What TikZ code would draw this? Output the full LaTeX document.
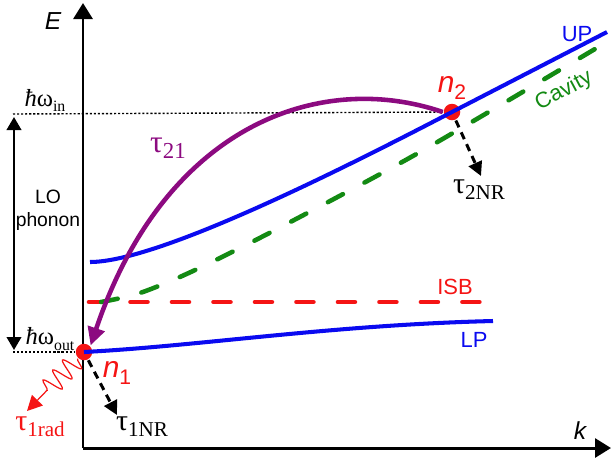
\documentclass[tikz,border=0pt]{standalone}
\usepackage{fontspec}
\setmainfont{Liberation Sans}
\newfontfamily\tnr{Liberation Serif}
\usetikzlibrary{arrows.meta, positioning, decorations.pathmorphing}
\definecolor{cblue}{HTML}{0A0AF0}
\definecolor{cgreen}{HTML}{138A13}
\definecolor{cred}{HTML}{F51414}
\definecolor{cpurple}{HTML}{8C0A80}
\newcommand{\low}[2]{\raisebox{-0.45ex}{\fontsize{#1}{#1}\selectfont #2}}
\tikzset{
  every picture/.style={line width=1.2pt},
  axis/.style={-{Triangle[length=3.2mm, width=3.8mm]}, line width=1.7pt},
  axlabel/.style={font=\fontsize{14}{16}\selectfont\itshape},
  branch/.style={draw=cblue, line width=2.3pt},
  band/.style={font=\fontsize{12.5}{14}\selectfont},
  longdash/.style={line width=2.6pt, line cap=round, dash pattern=on 3.4mm off 4.9mm},
  dotline/.style={line width=0.8pt, dash pattern=on 1.2pt off 1.1pt},
  phonon/.style={{Triangle[length=2.6mm, width=2.9mm]}-{Triangle[length=2.6mm, width=2.9mm]}, line width=1.3pt},
  relax/.style={draw=cpurple, line width=2.6pt, -{Triangle[length=3.6mm, width=3.4mm]}},
  nrarrow/.style={line width=1.7pt, dash pattern=on 1.5mm off 1.1mm, -{Triangle[length=2.8mm, width=2.8mm]}},
  radarrow/.style={draw=cred, line width=0.7pt, decorate, decoration={snake, amplitude=2mm, segment length=2.8mm, post length=5mm}, -{Triangle[length=3mm, width=3mm]}},
  pop/.style={circle, fill=cred, inner sep=0pt, minimum size=3.3mm},
  poplabel/.style={text=cred, font=\fontsize{17}{19}\selectfont\itshape},
  tau/.style={font=\tnr\fontsize{16}{18}\selectfont},
  ntau/.style={font=\tnr\fontsize{17}{19}\selectfont},
  level/.style={font=\tnr\fontsize{14}{16}\selectfont},
}
\begin{document}
\begin{tikzpicture}[x=0.02cm, y=-0.02cm]
  \useasboundingbox (0,0) rectangle (612,458);

  % axes
  \coordinate (origin) at (83,448);
  \coordinate (etop) at (83,3);
  \coordinate (kend) at (611,448);
  \draw[axis] (origin) -- (etop);
  \draw[axis] (origin) -- (kend);
  \node[axlabel] (elab) at (53,21) {E};
  \node[axlabel] (klab) at (580,431) {k};

  % populations
  \node[pop] (n1) at (84,352) {};
  \node[pop] (n2) at (452,112) {};
  \node[poplabel] (n1lab) at (117,373) {n\low{12}{\upshape 1}};
  \node[poplabel] (n2lab) at (452,88) {n\low{12}{\upshape 2}};

  % energy levels
  \coordinate (inleft) at (13,114);
  \coordinate (outleft) at (13,352);
  \draw[dotline] (inleft) -- (n2);
  \draw[dotline] (outleft) -- (n1);
  \node[level] (inlab) at (45,100) {\textit{ħ}ω\low{9}{in}};
  \node[level] (outlab) at (50,339) {\textit{ħ}ω\low{9}{out}};
  \coordinate (phtop) at (14,117);
  \coordinate (phbot) at (14,350);
  \draw[phonon] (phtop) -- (phbot);
  \node[band, font=\fontsize{11}{13}\selectfont, align=center] (lolab) at (48,210) {LO\\phonon};

  % dispersions
  \draw[cred, longdash] (89,302) -- (485,302);
  \draw[cgreen, longdash] plot[smooth] coordinates {(101,302) (140,293) (193,271) (277,229) (420,152) (600,46)};
  \draw[branch] (90,262) .. controls (160,262) and (352,164) .. (n2.center) -- (607,32);
  \draw[branch] (n1.center) .. controls (200,346) and (330,325) .. (493,321);
  \node[band, text=cblue] (uplab) at (577,34) {UP};
  \node[band, text=cblue] (lplab) at (474,340) {LP};
  \node[band, text=cred] (isblab) at (455,287) {ISB};
  \node[band, text=cgreen, rotate=28] (cavlab) at (564,91) {Cavity};

  % scattering
  \draw[relax] (n2.west) .. controls (320,70) and (165,125) .. (n1.north east);
  \node[tau, text=cpurple, font=\tnr\fontsize{18}{20}\selectfont] (t21) at (168,148) {τ\low{13}{21}};
  \coordinate (n2end) at (481,176);
  \coordinate (n1end) at (117,415);
  \coordinate (radend) at (27,411);
  \draw[nrarrow] (n2) -- (n2end);
  \draw[nrarrow] (n1) -- (n1end);
  \draw[radarrow] (n1) -- (radend);
  \node[ntau] (t2nr) at (479,190) {τ\low{12}{2NR}};
  \node[ntau] (t1nr) at (142,427) {τ\low{12}{1NR}};
  \node[ntau, text=cred] (t1rad) at (40,427) {τ\low{12}{1rad}};
\end{tikzpicture}
\end{document}
